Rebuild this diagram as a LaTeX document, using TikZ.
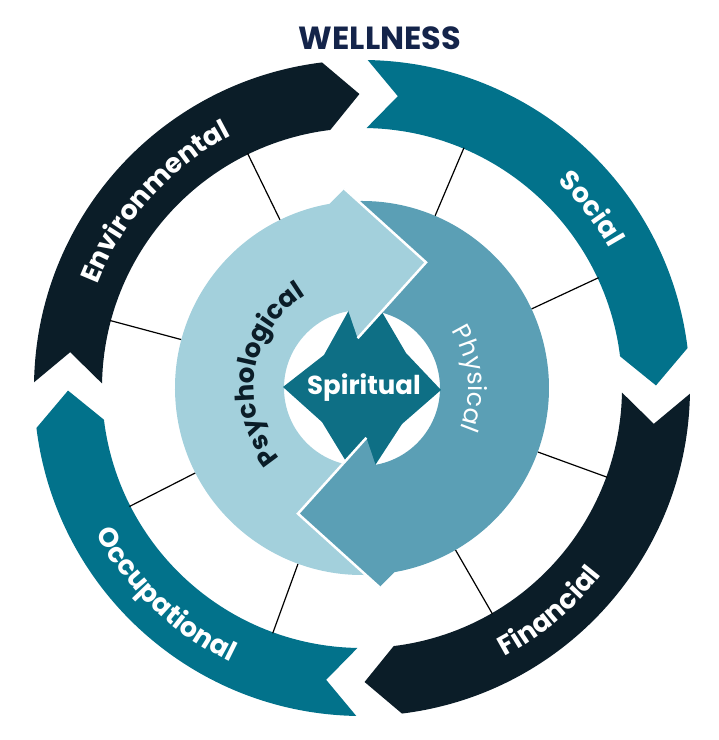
\documentclass[tikz,border=0pt]{standalone}
\usepackage{fontspec}
\setmainfont{Poppins}
\usetikzlibrary{decorations.text}
\definecolor{navy}{HTML}{0B1D28}
\definecolor{tealc}{HTML}{02728B}
\definecolor{lightb}{HTML}{A3D0DC}
\definecolor{midb}{HTML}{5B9FB5}
\definecolor{spir}{HTML}{0E6F85}
\definecolor{titlec}{HTML}{14244A}
\tikzset{
  spoke/.style={black,line width=1.2pt},
  arclabel/.style={decorate,decoration={text along path,text align=center,text={#1}}}
}
\begin{document}
\begin{tikzpicture}[x=1pt,y=1pt]
\useasboundingbox (-362,-352) rectangle (357,388);
% outer segments
\foreach \s/\c in {180/navy,90/tealc,0/navy,-90/tealc}{
  \pgfmathsetmacro\aa{\s-1}
  \pgfmathsetmacro\an{\s-7}
  \pgfmathsetmacro\ab{\s-83}
  \pgfmathsetmacro\at{\s-89.5}
  \fill[\c] (\aa:328pt) arc[start angle=\aa,end angle=\ab,radius=328pt]
    -- (\at:294pt) -- (\ab:260pt) arc[start angle=\ab,end angle=\aa,radius=260pt]
    -- (\an:294pt) -- cycle;
}
% spokes
\foreach \a in {116,165,207,250,-60,-20,25,67}{
  \draw[spoke] (\a:187pt) -- (\a:261pt);
}
% inner ring bodies
\fill[lightb] (95:187pt) arc[start angle=95,end angle=275,radius=187pt]
  -- (275:78pt) arc[start angle=275,end angle=95,radius=78pt] -- cycle;
\fill[midb] (96:187pt) arc[start angle=96,end angle=-85,radius=187pt]
  -- (-85:78pt) arc[start angle=-85,end angle=96,radius=78pt] -- cycle;
% spiritual star
\fill[spir] (-79,1) -- (-38,33) -- (-13,78) -- (20,76) -- (44,35) -- (79,-2)
  -- (40,-36) -- (12,-79) -- (-15,-75) -- (-40,-34) -- cycle;
% physical head
\fill[midb] (-85:50pt) -- (-117:141pt) -- (-85:200pt) -- (-80:187pt) -- (-80:78pt) -- cycle;
\draw[white,line width=2.5pt,line join=miter] (-85:50pt) -- (-117:141pt) -- (-85:200pt);
% psychological head
\fill[lightb] (95:50pt) -- (63:141pt) -- (95:200pt) -- (100:187pt) -- (100:78pt) -- cycle;
\draw[white,line width=2.5pt,line join=miter] (95:50pt) -- (63:141pt) -- (95:200pt);
\node[text=white,font=\bfseries\fontsize{26}{26}\selectfont] (sp) at (2,0) {Spiritual};
% labels
\path[arclabel={|\color{white}\bfseries\fontsize{27}{27}\selectfont|Environmental}]
  (178:284pt) arc[start angle=178,end angle=98,radius=284pt];
\path[arclabel={|\color{white}\bfseries\fontsize{27}{27}\selectfont|Social}]
  (60:284pt) arc[start angle=60,end angle=16,radius=284pt];
\path[arclabel={|\color{white}\bfseries\fontsize{27}{27}\selectfont|Financial}]
  (-75:304pt) arc[start angle=-75,end angle=-25,radius=304pt];
\path[arclabel={|\color{white}\bfseries\fontsize{27}{27}\selectfont|Occupational}]
  (192:304pt) arc[start angle=192,end angle=261,radius=304pt];
\path[arclabel={|\color{navy}\bfseries\fontsize{26}{26}\selectfont|Psychological}]
  (228:108pt) arc[start angle=228,end angle=114,radius=108pt];
\path[arclabel={|\color{white}\fontsize{25}{25}\selectfont|Physical}]
  (48:106pt) arc[start angle=48,end angle=-38,radius=106pt];
\node[text=titlec,font=\bfseries\fontsize{32}{32}\selectfont] (title) at (18,350) {WELLNESS};
\end{tikzpicture}
\end{document}
